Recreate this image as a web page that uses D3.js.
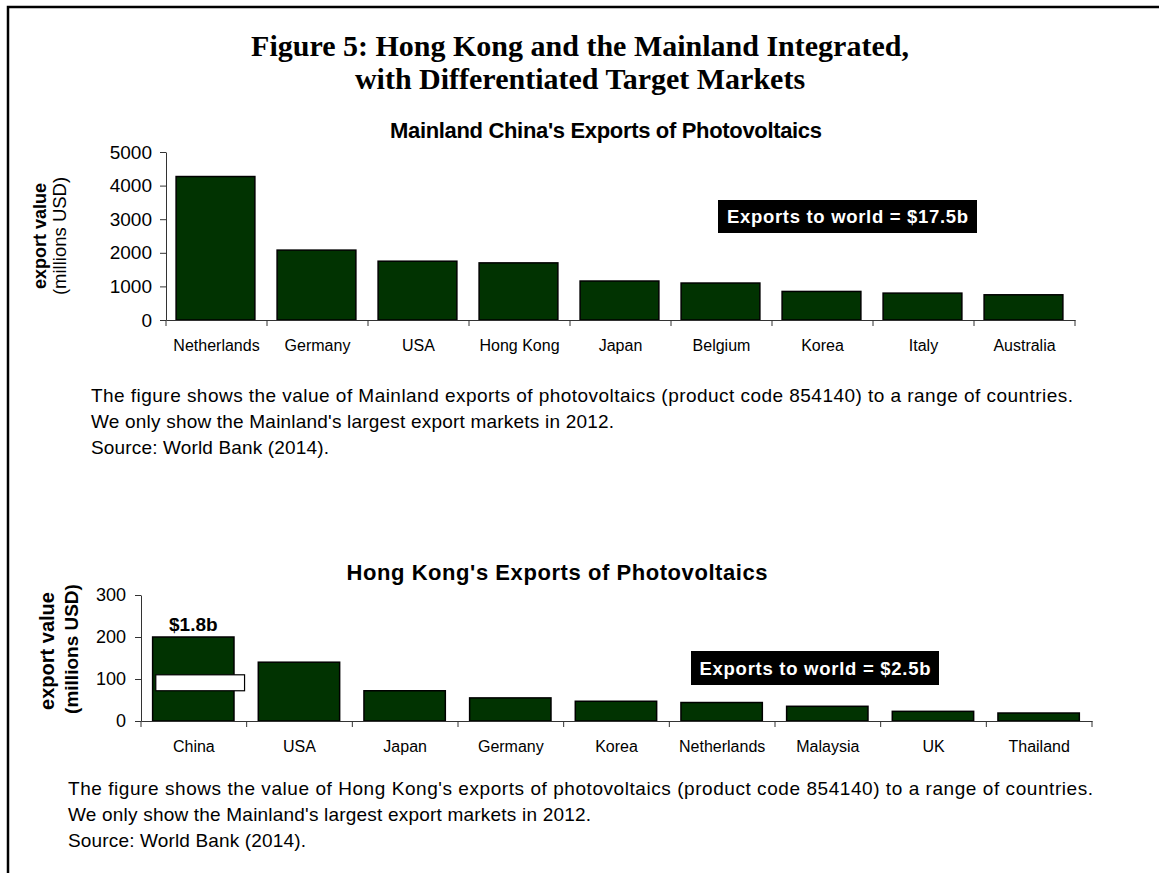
<!DOCTYPE html>
<html>
<head>
<meta charset="utf-8">
<script src="https://cdn.jsdelivr.net/npm/d3@7"></script>
<style>
  html, body { margin: 0; padding: 0; background: #fff; }
  svg { display: block; }
  text { font-family: "Liberation Sans", Arial, sans-serif; }
</style>
</head>
<body>
<script>
// ---------- data ----------
const mainlandCountries = ["Netherlands", "Germany", "USA", "Hong Kong", "Japan", "Belgium", "Korea", "Italy", "Australia"];
const mainlandValues = [4270, 2080, 1750, 1700, 1160, 1100, 850, 800, 750];
const mainlandTicks = [0, 1000, 2000, 3000, 4000, 5000];

const hkCountries = ["China", "USA", "Japan", "Germany", "Korea", "Netherlands", "Malaysia", "UK", "Thailand"];
const hkValues = [200, 140, 72, 55, 47, 44, 35, 23, 19]; // China bar truncated (axis break); true value $1.8b
const hkTicks = [0, 100, 200, 300];
const hkBreakLabel = "$1.8b";

const mainTitle = ["Figure 5: Hong Kong and the Mainland Integrated,", "with Differentiated Target Markets"];
const chart1Title = "Mainland China's Exports of Photovoltaics";
const chart2Title = "Hong Kong's Exports of Photovoltaics";
const chart1Box = "Exports to world = $17.5b";
const chart2Box = "Exports to world = $2.5b";
const caption1 = [
  "The figure shows the value of Mainland exports of photovoltaics (product code 854140) to a range of countries.",
  "We only show the Mainland's largest export markets in 2012.",
  "Source: World Bank (2014)."
];
const caption2 = [
  "The figure shows the value of Hong Kong's exports of photovoltaics (product code 854140) to a range of countries.",
  "We only show the Mainland's largest export markets in 2012.",
  "Source: World Bank (2014)."
];

// ---------- drawing ----------
const W = 1159, H = 873;
const svg = d3.select("body").append("svg").attr("width", W).attr("height", H);
svg.append("rect").attr("width", W).attr("height", H).attr("fill", "#fff");

// frame (top and left)
svg.append("path").attr("d", `M8,${H} V7 H${W}`).attr("fill", "none").attr("stroke", "#000").attr("stroke-width", 2.5);

// main title
const serif = "'Liberation Serif', 'Times New Roman', serif";
svg.append("text").attr("x", 580).attr("y", 56).attr("text-anchor", "middle")
  .style("font-family", serif).style("font-weight", "bold").style("font-size", "30px").style("fill", "#000")
  .text(mainTitle[0]);
svg.append("text").attr("x", 580).attr("y", 89).attr("text-anchor", "middle")
  .style("font-family", serif).style("font-weight", "bold").style("font-size", "30px").style("fill", "#000")
  .text(mainTitle[1]);

const BAR_FILL = "#013301";

function fitText(sel, len) {
  sel.attr("textLength", len).attr("lengthAdjust", "spacing");
}

function drawChart(cfg) {
  const g = svg.append("g");
  const x = d3.scaleBand().domain(cfg.cats).range([cfg.x0, cfg.x1]).padding(0);
  const y = d3.scaleLinear().domain([0, cfg.ticks[cfg.ticks.length - 1]]).range([cfg.y0, cfg.y1]);

  // title
  const t = g.append("text").attr("x", cfg.titleX).attr("y", cfg.titleY).attr("text-anchor", "middle")
    .style("font-weight", "bold").style("font-size", cfg.titleSize).style("fill", "#000").text(cfg.title);
  fitText(t, cfg.titleLen);

  // bars
  g.selectAll("rect.bar").data(cfg.vals).join("rect").attr("class", "bar")
    .attr("x", (d, i) => x(cfg.cats[i]) + x.bandwidth() * cfg.barOff)
    .attr("width", x.bandwidth() * cfg.barW)
    .attr("y", d => y(d))
    .attr("height", d => y(0) - y(d))
    .attr("fill", BAR_FILL).attr("stroke", "#000").attr("stroke-width", 1.5);

  // y axis
  const ya = g.append("g").attr("transform", `translate(${cfg.x0},0)`)
    .call(d3.axisLeft(y).tickValues(cfg.ticks).tickSize(6).tickSizeOuter(0).tickPadding(cfg.yPad).tickFormat(d3.format("d")));
  ya.selectAll("path,line").attr("stroke", "#333");
  ya.selectAll("text").style("font-size", cfg.yFont).style("font-family", "'Liberation Sans', Arial, sans-serif").style("fill", "#000");

  // x axis: line, boundary ticks, labels
  const xa = g.append("g").attr("transform", `translate(0,${cfg.y0})`)
    .call(d3.axisBottom(x).tickSize(0).tickPadding(cfg.xPad));
  xa.select("path.domain").attr("stroke", "#333");
  xa.selectAll("text").style("font-size", "16px").style("font-family", "'Liberation Sans', Arial, sans-serif").style("fill", "#000");
  const bounds = cfg.cats.map(c => x(c)).concat([cfg.x1]);
  xa.selectAll("line.bt").data(bounds).join("line").attr("class", "bt")
    .attr("x1", d => d).attr("x2", d => d).attr("y1", 0).attr("y2", 6).attr("stroke", "#333");

  // y axis labels
  cfg.yLabels.forEach(l => {
    g.append("text").attr("transform", `translate(${l.x},${l.y}) rotate(-90)`).attr("text-anchor", "middle")
      .style("font-size", l.size).style("font-weight", l.bold ? "bold" : "normal").style("fill", "#000").text(l.text);
  });

  // exports box
  const bx = g.append("g");
  bx.append("rect").attr("x", cfg.box.x).attr("y", cfg.box.y).attr("width", cfg.box.w).attr("height", cfg.box.h).attr("fill", "#000");
  const bt = bx.append("text").attr("x", cfg.box.x + cfg.box.w / 2).attr("y", cfg.box.y + cfg.box.h / 2 + 6.5).attr("text-anchor", "middle")
    .style("font-size", "18.5px").style("font-weight", "bold").style("fill", "#fff").text(cfg.box.text);
  fitText(bt, cfg.box.textLen);

  // caption
  cfg.caption.forEach((txt, i) => {
    const c = g.append("text").attr("x", cfg.capX).attr("y", cfg.capY + i * 26).style("font-size", "19px").style("fill", "#000").text(txt);
    fitText(c, cfg.capLens[i]);
  });
  return { g, x, y };
}

drawChart({
  cats: mainlandCountries, vals: mainlandValues, ticks: mainlandTicks,
  x0: 166, x1: 1075, y0: 320, y1: 152, barOff: 0.1, barW: 0.78,
  title: chart1Title, titleX: 606, titleY: 138, titleSize: "22px", titleLen: 432,
  yPad: 8, yFont: "19px", xPad: 20,
  yLabels: [
    { text: "export value", x: 46, y: 236, size: "18px", bold: true },
    { text: "(millions USD)", x: 66, y: 236, size: "18.5px", bold: false }
  ],
  box: { x: 718, y: 200, w: 259, h: 33, text: chart1Box, textLen: 241 },
  caption: caption1, capX: 91, capY: 402, capLens: [982, 523, 238]
});

const c2 = drawChart({
  cats: hkCountries, vals: hkValues, ticks: hkTicks,
  x0: 141, x1: 1092, y0: 721, y1: 595, barOff: 0.11, barW: 0.77,
  title: chart2Title, titleX: 557, titleY: 580, titleSize: "22px", titleLen: 421,
  yPad: 9, yFont: "18px", xPad: 20,
  yLabels: [
    { text: "export value", x: 54, y: 651, size: "20px", bold: true },
    { text: "(millions USD)", x: 78, y: 649, size: "19px", bold: true }
  ],
  box: { x: 691, y: 651, w: 248, h: 34, text: chart2Box, textLen: 231 },
  caption: caption2, capX: 68, capY: 795, capLens: [1025, 523, 238]
});

// axis-break marker and true-value label on the China bar
const chinaX = c2.x(hkCountries[0]);
const bw = c2.x.bandwidth();
c2.g.append("rect").attr("x", chinaX + bw * 0.14).attr("y", c2.y(110)).attr("width", bw * 0.84).attr("height", c2.y(72) - c2.y(110))
  .attr("fill", "#fff").attr("stroke", "#000").attr("stroke-width", 1.2);
c2.g.append("text").attr("x", chinaX + bw * 0.11 + bw * 0.77 / 2).attr("y", c2.y(hkValues[0]) - 6).attr("text-anchor", "middle")
  .style("font-size", "19px").style("font-weight", "bold").style("fill", "#000").text(hkBreakLabel);
</script>
</body>
</html>
